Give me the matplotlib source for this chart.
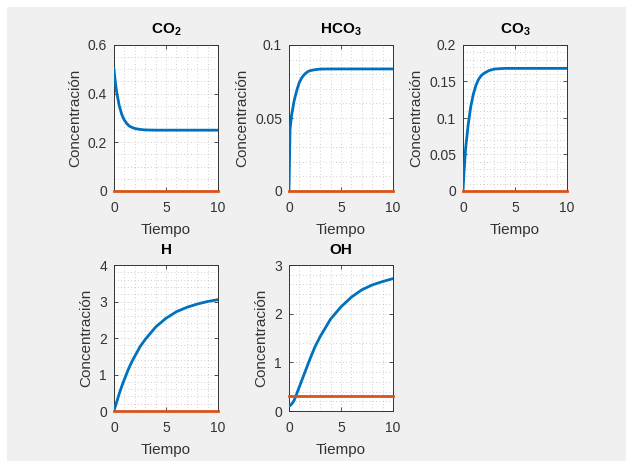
import matplotlib
matplotlib.use("Agg")
import matplotlib.pyplot as plt
from matplotlib.ticker import MultipleLocator, FuncFormatter
from matplotlib.patches import Rectangle

plt.rcParams['font.family'] = ['Liberation Sans', 'DejaVu Sans']
plt.rcParams['mathtext.fontset'] = 'custom'
plt.rcParams['mathtext.rm'] = 'Liberation Sans'
plt.rcParams['mathtext.bf'] = 'Liberation Sans:bold'

# ---- data ----
t = [0, 0.1, 0.25, 0.5, 0.75, 1, 1.25, 1.5, 1.75, 2, 2.5, 3, 4, 5, 6, 7, 8, 9, 10]
co2 = [0.50, 0.458, 0.408, 0.351, 0.314, 0.291, 0.276, 0.266, 0.261, 0.257,
       0.253, 0.251, 0.250, 0.250, 0.250, 0.250, 0.250, 0.250, 0.250]
hco3 = [0.0, 0.042, 0.052, 0.062, 0.069, 0.0745, 0.0778, 0.0800, 0.0815,
        0.0824, 0.0831, 0.0835, 0.0836, 0.0836, 0.0836, 0.0836, 0.0836,
        0.0836, 0.0836]
co3 = [0.0, 0.026, 0.058, 0.091, 0.116, 0.133, 0.145, 0.153, 0.158, 0.161,
       0.165, 0.167, 0.168, 0.168, 0.168, 0.168, 0.168, 0.168, 0.168]
h = [0.0, 0.10, 0.24, 0.47, 0.68, 0.87, 1.05, 1.22, 1.37, 1.50, 1.76, 1.96,
     2.30, 2.54, 2.72, 2.84, 2.93, 3.00, 3.05]
oh = [0.10, 0.11, 0.14, 0.22, 0.36, 0.50, 0.64, 0.78, 0.92, 1.06, 1.32, 1.53,
      1.89, 2.14, 2.34, 2.49, 2.59, 2.66, 2.72]
ref_t = [0, 10]
ref_co2 = [0, 0]
ref_hco3 = [0, 0]
ref_co3 = [0, 0]
ref_h = [0, 0]
ref_oh = [0.3, 0.3]

titles = [r'$\mathbf{CO_2}$', r'$\mathbf{HCO_3}$', r'$\mathbf{CO_3}$', 'H', 'OH']
series = [co2, hco3, co3, h, oh]
refs = [ref_co2, ref_hco3, ref_co3, ref_h, ref_oh]
ylims = [(0, 0.6), (0, 0.1), (0, 0.2), (0, 4), (0, 3)]
ymajor = [0.2, 0.05, 0.05, 1, 1]
yminor = [0.05, 0.01, 0.01, 0.2, 0.2]

W, H = 626, 461
fig = plt.figure(figsize=(W / 100, H / 100), dpi=100, facecolor='white')
fig.patches.append(Rectangle((7 / W, 0), 1 - 7 / W, 1 - 7 / H,
                             transform=fig.transFigure, facecolor='#f0f0f0',
                             edgecolor='none', zorder=-10))

lefts = [114, 289, 463, 114, 289]
tops = [45, 45, 45, 265, 265]
aw, ah = 104, 146

blue = '#0072BD'
orange = '#D95319'
dark = '#333333'

for i in range(5):
    ax = fig.add_axes([lefts[i] / W, 1 - (tops[i] + ah) / H, aw / W, ah / H])
    ax.set_facecolor('white')
    ax.plot(t, series[i], color=blue, lw=2.0, zorder=3)
    ax.plot(ref_t, refs[i], color=orange, lw=2.0, zorder=3, clip_on=False)
    ax.set_xlim(0, 10)
    ax.set_ylim(*ylims[i])
    ax.xaxis.set_major_locator(MultipleLocator(5))
    ax.xaxis.set_minor_locator(MultipleLocator(1))
    ax.yaxis.set_major_locator(MultipleLocator(ymajor[i]))
    ax.yaxis.set_minor_locator(MultipleLocator(yminor[i]))
    ax.grid(True, which='both', linestyle=(0, (1, 3)), color='#bdbdbd', lw=0.6)
    ax.set_axisbelow(True)
    ax.tick_params(which='major', direction='in', length=3, width=0.6,
                   colors=dark, labelsize=10, top=True, right=True)
    ax.tick_params(axis='x', which='major', pad=7)
    ax.tick_params(axis='y', which='major', pad=5)
    ax.tick_params(which='minor', length=0)
    for s in ax.spines.values():
        s.set_color(dark)
        s.set_linewidth(0.7)
    ax.set_title(titles[i], fontsize=11, fontweight='bold', color='black', pad=8)
    ax.set_xlabel('Tiempo', fontsize=11, color=dark, labelpad=6)
    ax.set_ylabel('Concentración', fontsize=11, color=dark, labelpad=4)
    ax.yaxis.set_major_formatter(FuncFormatter(lambda v, p: '%g' % round(v, 6)))

fig.savefig('out.png', dpi=100, facecolor=fig.get_facecolor())
